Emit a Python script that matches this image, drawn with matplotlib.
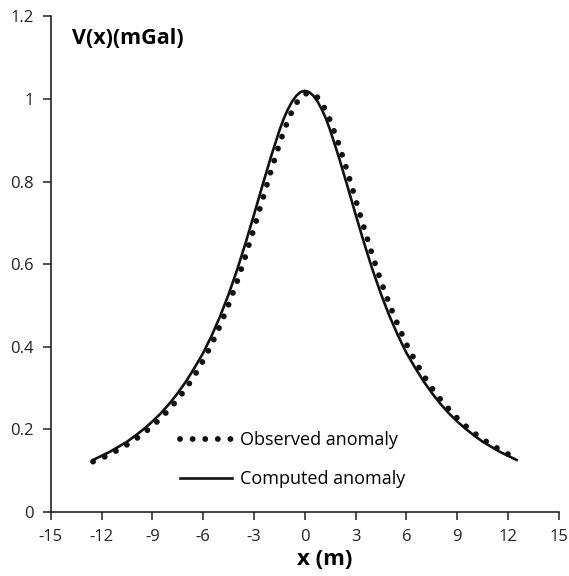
import matplotlib
matplotlib.use('Agg')
import matplotlib.pyplot as plt

# distance along profile (m)
x_m = [-12.5, -12, -11.5, -11, -10.5, -10, -9.5, -9, -8.5, -8, -7.5, -7, -6.5, -6,
       -5.5, -5, -4.5, -4, -3.5, -3, -2.5, -2, -1.5, -1.25, -1, -0.75, -0.5, -0.25, 0,
       0.25, 0.5, 0.75, 1, 1.25, 1.5, 2, 2.5, 3, 3.5, 4, 4.5, 5, 5.5, 6, 6.5, 7, 7.5, 8,
       8.5, 9, 9.5, 10, 10.5, 11, 11.5, 12, 12.5]

# observed anomaly (mGal)
observed = [0.122, 0.130, 0.140, 0.151, 0.163, 0.176, 0.191, 0.208, 0.227, 0.249, 0.273,
            0.300, 0.331, 0.367, 0.406, 0.452, 0.502, 0.558, 0.620, 0.687, 0.756, 0.826,
            0.891, 0.921, 0.948, 0.971, 0.990, 1.004, 1.012,
            1.015, 1.012, 1.004, 0.990, 0.971, 0.948, 0.891, 0.826, 0.756, 0.687, 0.620,
            0.558, 0.502, 0.452, 0.406, 0.367, 0.331, 0.300, 0.273, 0.249, 0.227, 0.208,
            0.191, 0.176, 0.163, 0.151, 0.140, 0.130]

# computed anomaly (mGal)
computed = [0.126, 0.136, 0.146, 0.158, 0.170, 0.185, 0.201, 0.219, 0.239, 0.262, 0.288,
            0.317, 0.350, 0.385, 0.427, 0.474, 0.527, 0.586, 0.651, 0.720, 0.791, 0.860,
            0.924, 0.952, 0.975, 0.994, 1.008, 1.017, 1.020,
            1.017, 1.008, 0.994, 0.975, 0.952, 0.924, 0.860, 0.791, 0.720, 0.651, 0.586,
            0.527, 0.474, 0.427, 0.385, 0.350, 0.317, 0.288, 0.262, 0.239, 0.219, 0.201,
            0.185, 0.170, 0.158, 0.146, 0.136, 0.126]

x_ticks = [-15, -12, -9, -6, -3, 0, 3, 6, 9, 12, 15]
y_ticks = [0, 0.2, 0.4, 0.6, 0.8, 1, 1.2]
y_tick_labels = ['0', '0.2', '0.4', '0.6', '0.8', '1', '1.2']

plt.rcParams['font.family'] = ['Open Sans', 'DejaVu Sans']

fig = plt.figure(figsize=(5.69, 5.76), dpi=100)
ax = fig.add_axes([0.0891, 0.1111, 0.8933, 0.8604])

# dotted line with round dots, like the spreadsheet style
obs_line, = ax.plot(x_m, observed, color='#111111', lw=4.2,
                    linestyle=(0, (0.01, 2.15)), dash_capstyle='round',
                    label='Observed anomaly')
comp_line, = ax.plot(x_m, computed, color='#111111', lw=1.9,
                     label='Computed anomaly')

ax.set_xlim(-15, 15)
ax.set_ylim(0, 1.2)
ax.set_xticks(x_ticks)
ax.set_xticklabels([str(t) for t in x_ticks])
ax.set_yticks(y_ticks)
ax.set_yticklabels(y_tick_labels)

for s in ['top', 'right']:
    ax.spines[s].set_visible(False)
for s in ['left', 'bottom']:
    ax.spines[s].set_linewidth(1.1)
    ax.spines[s].set_color('#111111')
ax.tick_params(direction='out', length=6, width=1.1, pad=6, labelsize=12,
               colors='#222222')

ax.set_xlabel('x (m)', fontsize=16, fontweight='bold')
ax.xaxis.set_label_coords(0.539, -0.075)
ax.text(0.042, 0.955, 'V(x)(mGal)', transform=ax.transAxes, fontsize=15.5,
        fontweight='bold', ha='left', va='center')

leg = ax.legend(handles=[obs_line, comp_line], loc='upper left',
                bbox_to_anchor=(0.2545, 0.1635), frameon=False, fontsize=13,
                handlelength=2.85, handletextpad=0.45, labelspacing=1.17,
                borderpad=0, borderaxespad=0)

fig.savefig('out.png', dpi=100)
